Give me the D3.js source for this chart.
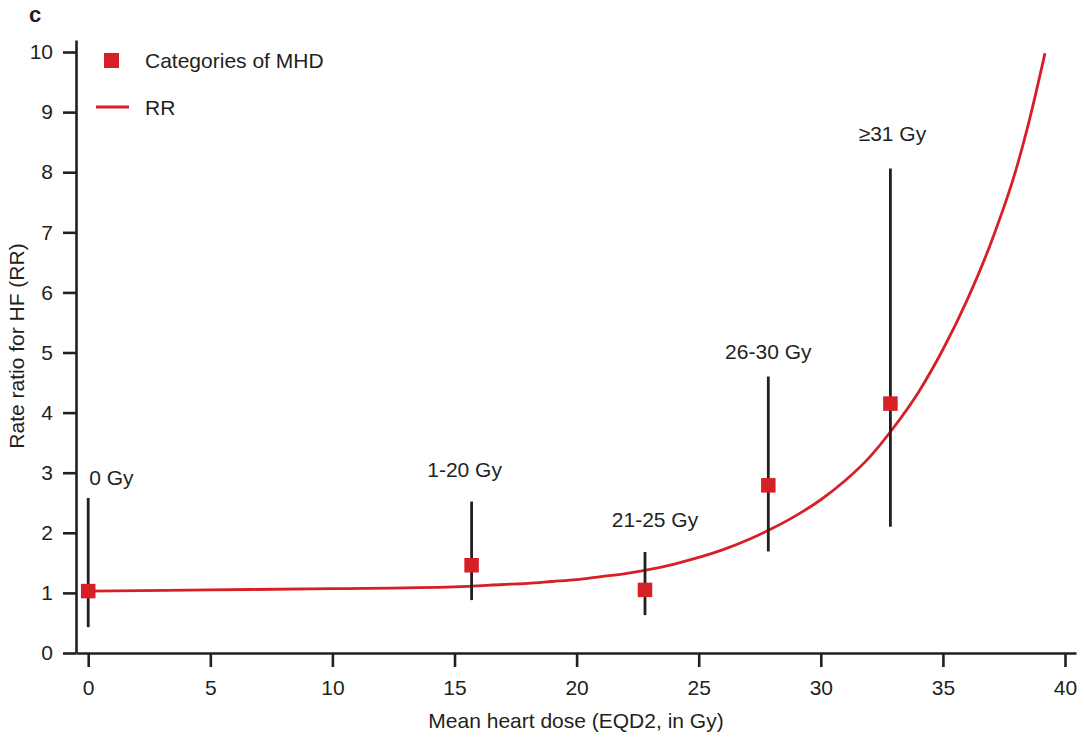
<!DOCTYPE html>
<html>
<head>
<meta charset="utf-8">
<script src="https://cdn.jsdelivr.net/npm/d3@7"></script>
<style>
  body { margin: 0; background: #fff; }
  svg { display: block; font-family: "Liberation Sans", Arial, Helvetica, sans-serif; }
</style>
</head>
<body>
<svg id="chart" width="1084" height="740"></svg>
<script>
// ---- Data ----
const categories = ["0 Gy", "1-20 Gy", "21-25 Gy", "26-30 Gy", "\u226531 Gy"];
const catDose = [0, 15.7, 22.8, 27.85, 32.85];
const catRR = [1.03, 1.46, 1.05, 2.79, 4.15];
const catLow = [0.43, 0.88, 0.63, 1.69, 2.1];
const catHigh = [2.58, 2.52, 1.68, 4.6, 8.06];

const curveDose = [0, 5, 10, 15, 17, 18, 19, 20, 21, 22, 23, 24, 25, 26, 27, 28, 29, 30, 31, 32, 33, 34, 35, 36, 37, 38, 38.5, 39.18];
const curveRR   = [1.03, 1.05, 1.07, 1.10, 1.14, 1.16, 1.19, 1.22, 1.27, 1.32, 1.39, 1.48, 1.59, 1.72, 1.88, 2.07, 2.29, 2.55, 2.87, 3.26, 3.76, 4.34, 5.05, 5.88, 6.86, 8.05, 8.8, 9.98];

const xTicks = [0, 5, 10, 15, 20, 25, 30, 35, 40];
const yTicks = [0, 1, 2, 3, 4, 5, 6, 7, 8, 9, 10];

// ---- Layout ----
const svg = d3.select("#chart");
const ink = "#231f20";
const red = "#d71f27";
const fs = "21px";

const x = d3.scaleLinear().domain([-0.5, 40.45]).range([76, 1076]);
const y = d3.scaleLinear().domain([0, 10.2]).range([653, 40]);

// Axes
const xAxis = svg.append("g").attr("transform", `translate(0,${y(0)})`)
  .call(d3.axisBottom(x).tickValues(xTicks).tickSize(14).tickSizeOuter(0).tickPadding(13));
const yAxis = svg.append("g").attr("transform", `translate(${x(-0.5)},0)`)
  .call(d3.axisLeft(y).tickValues(yTicks).tickSize(13).tickSizeOuter(0).tickPadding(10));

[xAxis, yAxis].forEach(g => {
  g.select(".domain").attr("stroke", ink).attr("stroke-width", 2.6);
  g.selectAll(".tick line").attr("stroke", ink).attr("stroke-width", 2.6);
  g.selectAll(".tick text").attr("fill", ink).style("font-size", fs)
    .style("font-family", "'Liberation Sans', Arial, sans-serif");
});

// Curve
const line = d3.line().x(d => x(d[0])).y(d => y(d[1])).curve(d3.curveMonotoneX);
svg.append("path")
  .datum(curveDose.map((d, i) => [d, curveRR[i]]))
  .attr("fill", "none").attr("stroke", red).attr("stroke-width", 2.8)
  .attr("d", line);

// Error bars
const pts = categories.map((c, i) => ({c, d: catDose[i], rr: catRR[i], lo: catLow[i], hi: catHigh[i]}));
svg.append("g").selectAll("line").data(pts).join("line")
  .attr("x1", d => x(d.d)).attr("x2", d => x(d.d))
  .attr("y1", d => y(d.lo)).attr("y2", d => y(d.hi))
  .attr("stroke", ink).attr("stroke-width", 2.8);

// Markers
const ms = 14.5;
svg.append("g").selectAll("rect").data(pts).join("rect")
  .attr("x", d => x(d.d) - ms / 2).attr("y", d => y(d.rr) - ms / 2)
  .attr("width", ms).attr("height", ms).attr("fill", red);

// Category labels
const labelDx = [1, -7, 10, 0, 2];
const labelDy = [13, 25, 25, 18, 28];
svg.append("g").selectAll("text").data(pts).join("text")
  .attr("x", (d, i) => x(d.d) + labelDx[i])
  .attr("y", (d, i) => y(d.hi) - labelDy[i])
  .attr("text-anchor", (d, i) => i === 0 ? "start" : "middle")
  .attr("fill", ink).style("font-size", fs)
  .text(d => d.c);

// Legend
svg.append("rect").attr("x", 104).attr("y", 53).attr("width", 15).attr("height", 15).attr("fill", red);
svg.append("text").attr("x", 145).attr("y", 68).attr("fill", ink).style("font-size", fs).text("Categories of MHD");
svg.append("line").attr("x1", 96).attr("x2", 129).attr("y1", 107).attr("y2", 107).attr("stroke", red).attr("stroke-width", 2.8);
svg.append("text").attr("x", 145).attr("y", 115).attr("fill", ink).style("font-size", fs).text("RR");

// Panel letter
svg.append("text").attr("x", 29).attr("y", 22).attr("fill", ink).style("font-size", "22px").style("font-weight", "bold").text("c");

// Axis titles
svg.append("text").attr("x", 576).attr("y", 728).attr("text-anchor", "middle")
  .attr("fill", ink).style("font-size", fs).text("Mean heart dose (EQD2, in Gy)");
svg.append("text").attr("transform", "translate(24,346) rotate(-90)").attr("text-anchor", "middle")
  .attr("fill", ink).style("font-size", fs).text("Rate ratio for HF (RR)");
</script>
</body>
</html>
